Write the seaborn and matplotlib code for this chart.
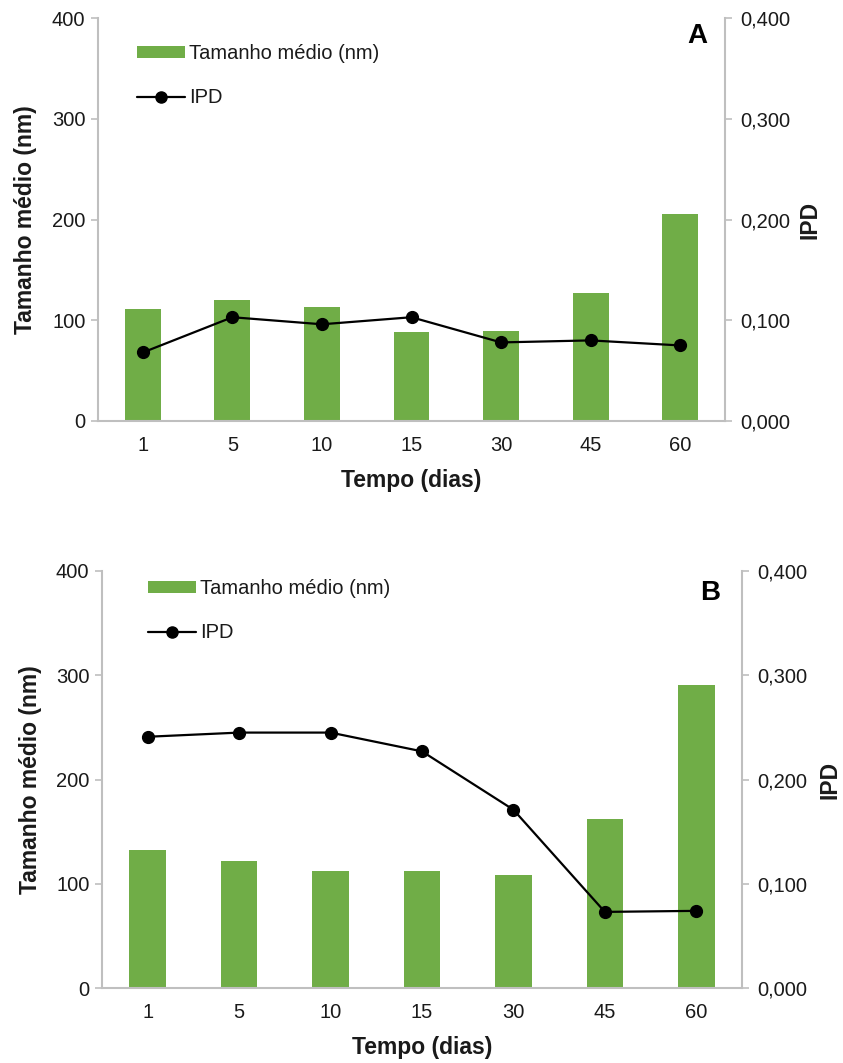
import matplotlib
matplotlib.use("Agg")
import matplotlib.pyplot as plt
import seaborn as sns
import pandas as pd
from matplotlib.ticker import FuncFormatter, FixedLocator
from matplotlib.patches import Patch
from matplotlib.lines import Line2D

days = ["1", "5", "10", "15", "30", "45", "60"]
size_a = [111, 120, 113, 88, 89, 127, 205]
ipd_a = [0.068, 0.103, 0.096, 0.103, 0.078, 0.080, 0.075]
size_b = [132, 122, 112, 112, 108, 162, 291]
ipd_b = [0.241, 0.245, 0.245, 0.227, 0.171, 0.073, 0.074]
size_ticks = [0, 100, 200, 300, 400]
ipd_ticks = [0.0, 0.1, 0.2, 0.3, 0.4]

sns.set_theme(style="white")
plt.rcParams["font.family"] = ["Liberation Sans", "DejaVu Sans"]

GREEN = "#70AD47"
GRAY = "#BFBFBF"
TXT = "#1a1a1a"

fig = plt.figure(figsize=(8.43, 10.63), dpi=100)
W, H = 843, 1063

def panel(rect, sizes, ipds, letter, letter_xy, leg_xy, ylpad, ipdpad):
    l, t, r, b = rect
    ax = fig.add_axes([l / W, 1 - b / H, (r - l) / W, (b - t) / H])
    df = pd.DataFrame({"dias": days, "size": sizes, "ipd": ipds})
    sns.barplot(data=df, x="dias", y="size", ax=ax, color=GREEN, width=0.4,
                saturation=1, edgecolor="none")
    ax.set_ylim(0, 400)
    ax.set_xlim(-0.5, 6.5)
    ax.yaxis.set_major_locator(FixedLocator(size_ticks))
    ax2 = ax.twinx()
    ax2.plot(range(len(days)), df["ipd"], color="black", marker="o",
             markersize=8.5, linewidth=1.6, zorder=3)
    ax2.set_ylim(0, 0.4)
    ax2.set_xlim(-0.5, 6.5)
    ax2.yaxis.set_major_locator(FixedLocator(ipd_ticks))
    ax2.yaxis.set_major_formatter(FuncFormatter(lambda v, p: f"{v:.3f}".replace(".", ",")))
    for a in (ax, ax2):
        for s in a.spines.values():
            s.set_visible(False)
        a.grid(False)
        a.set_facecolor("none")
    ax.spines["left"].set_visible(True)
    ax.spines["left"].set_color(GRAY)
    ax.spines["left"].set_linewidth(1.5)
    ax.spines["bottom"].set_visible(True)
    ax.spines["bottom"].set_color(GRAY)
    ax.spines["bottom"].set_linewidth(1.5)
    ax2.spines["right"].set_visible(True)
    ax2.spines["right"].set_color(GRAY)
    ax2.spines["right"].set_linewidth(1.5)
    ax.tick_params(axis="y", left=True, length=5, width=1.2, color=GRAY,
                   labelsize=14.5, labelcolor=TXT, pad=4)
    ax.tick_params(axis="x", bottom=False, labelsize=14.5, labelcolor=TXT, pad=5)
    ax2.tick_params(axis="y", right=True, length=5, width=1.2, color=GRAY,
                    labelsize=14.5, labelcolor=TXT, pad=6)
    ax.set_xlabel("Tempo (dias)", fontsize=16.5, fontweight="bold", color=TXT, labelpad=10)
    ax.set_ylabel("Tamanho médio (nm)", fontsize=16.5, fontweight="bold", color=TXT, labelpad=ylpad)
    ax2.set_ylabel("IPD", fontsize=16.5, fontweight="bold", color=TXT, rotation=90, labelpad=ipdpad)
    handles = [Patch(facecolor=GREEN, edgecolor="none", label="Tamanho médio (nm)"),
               Line2D([0], [0], color="black", marker="o", markersize=8, linewidth=1.6, label="IPD")]
    lx, ly = leg_xy
    ax2.legend(handles=handles, loc="upper left",
               bbox_to_anchor=((lx - l) / (r - l), 1 - (ly - t) / (b - t)), frameon=False,
               fontsize=14.5, handlelength=2.4, handleheight=0.55, handletextpad=0.2,
               labelspacing=1.25, labelcolor=TXT, borderaxespad=0, borderpad=0)
    fig.text(letter_xy[0] / W, 1 - letter_xy[1] / H, letter, fontsize=20,
             fontweight="bold", ha="center", va="center", color="black")

panel((98, 18, 725, 421), size_a, ipd_a, "A", (697, 36), (137, 44), 11, 6)
panel((102, 571, 742, 988), size_b, ipd_b, "B", (710, 593), (148, 579), 10, 8)

fig.savefig("out.png", dpi=100, facecolor="white")
